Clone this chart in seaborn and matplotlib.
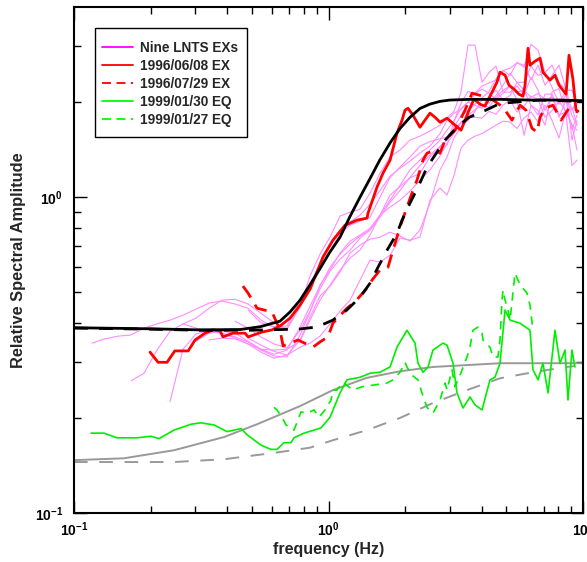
import matplotlib
matplotlib.use('Agg')
import matplotlib.pyplot as plt
from matplotlib.lines import Line2D
from matplotlib.patches import Rectangle
import seaborn as sns
import pandas as pd

# 数据：模型曲线（黑色）
freq_model_1 = [0.10, 0.20, 0.31, 0.45, 0.54, 0.645, 0.706, 0.773, 0.846, 0.926, 1.01, 1.11, 1.215, 1.33,
                1.46, 1.59, 1.75, 1.91, 2.09, 2.29, 2.5, 2.74, 3.0, 3.6, 4.7, 6.2, 8.1, 10.0]
amp_model_1 = [0.386, 0.383, 0.380, 0.381, 0.389, 0.405, 0.433, 0.472, 0.528, 0.594, 0.668, 0.747, 0.869, 1.0,
               1.15, 1.31, 1.49, 1.65, 1.79, 1.91, 1.97, 2.01, 2.03, 2.04, 2.04, 2.03, 2.03, 2.02]

freq_model_2 = [0.10, 0.20, 0.31, 0.49, 0.76, 0.90, 1.04, 1.18, 1.33, 1.456, 1.565, 1.70, 1.86, 1.945, 2.09,
                2.247, 2.44, 2.62, 2.87, 3.2, 3.57, 4.12, 4.72, 6.78, 10.0]
amp_model_2 = [0.385, 0.382, 0.379, 0.379, 0.382, 0.388, 0.408, 0.439, 0.482, 0.534, 0.60, 0.680, 0.769, 0.846,
               0.957, 1.076, 1.244, 1.358, 1.515, 1.665, 1.79, 1.88, 1.98, 2.03, 2.01]

# 灰色模型曲线
freq_gray_1 = [0.1, 0.157, 0.247, 0.389, 0.524, 0.712, 0.773, 1.041, 1.417, 1.91, 2.574, 3.501, 4.72, 6.36, 10.0]
amp_gray_1 = [0.147, 0.149, 0.158, 0.174, 0.191, 0.212, 0.218, 0.245, 0.268, 0.281, 0.290, 0.294, 0.298, 0.298, 0.298]

freq_gray_2 = [0.1, 0.247, 0.389, 0.611, 0.846, 1.041, 1.417, 1.91, 2.574, 3.501, 4.72, 6.36, 8.65, 9.30]
amp_gray_2 = [0.145, 0.145, 0.148, 0.155, 0.161, 0.170, 0.183, 0.200, 0.223, 0.245, 0.267, 0.279, 0.290, 0.292]

# 1996/06/08 EX
freq_ex_0608 = [0.199, 0.214, 0.232, 0.249, 0.281, 0.299, 0.327, 0.352, 0.375, 0.385,
                0.421, 0.470, 0.483, 0.548, 0.600, 0.645, 0.706, 0.773, 0.846, 0.951,
                1.041, 1.161, 1.215, 1.294, 1.417, 1.43, 1.551, 1.637, 1.745, 1.858,
                1.945, 1.998, 2.053, 2.148, 2.288, 2.394, 2.505, 2.621, 2.742, 2.922,
                3.141, 3.316, 3.566, 3.73, 3.94, 4.12, 4.39, 4.59, 4.72, 4.94,
                5.12, 5.36, 5.60, 5.81, 5.92, 6.08, 6.19, 6.48, 6.78, 6.96,
                7.42, 7.76, 8.05, 8.58, 8.81, 9.13, 9.39, 9.56]
amp_ex_0608 = [0.323, 0.300, 0.300, 0.326, 0.326, 0.353, 0.371, 0.380, 0.377, 0.361,
               0.371, 0.371, 0.361, 0.374, 0.380, 0.391, 0.414, 0.455, 0.511, 0.646,
               0.731, 0.815, 0.827, 0.846, 0.858, 0.890, 1.076, 1.191, 1.309, 1.594,
               1.753, 1.885, 1.912, 1.817, 1.665, 1.753, 1.845, 1.791, 1.727, 1.778,
               1.690, 1.629, 1.885, 2.042, 1.969, 1.941, 2.149, 2.311, 2.487, 2.433,
               2.262, 2.197, 2.118, 2.087, 2.262, 2.961, 2.617, 2.694, 2.754, 2.487,
               2.346, 2.433, 2.262, 2.118, 2.814, 2.363, 1.885, 1.872]

# 1996/07/29 EX
freq_ex_0729 = [0.461, 0.483, 0.524, 0.600, 0.645, 0.663, 0.759, 0.869, 0.926, 0.995,
                1.041, 1.181, 1.271, 1.417, 1.482, 1.594, 1.713, 1.792, 1.91, 2.034,
                2.148, 2.227, 2.351, 2.438, 2.621, 2.742, 2.87, 3.141, 3.438, 3.664,
                3.94, 4.43, 4.85, 5.26, 5.66, 5.97, 6.30, 6.60, 6.78, 7.09,
                7.62, 8.20, 8.81, 9.56]
amp_ex_0729 = [0.523, 0.497, 0.445, 0.433, 0.379, 0.338, 0.353, 0.335, 0.348, 0.361,
               0.399, 0.445, 0.466, 0.515, 0.546, 0.588, 0.600, 0.680, 0.804, 0.930,
               1.052, 1.132, 1.309, 1.378, 1.408, 1.378, 1.515, 1.629, 1.885, 2.134,
               2.10, 2.03, 1.927, 1.753, 1.955, 1.885, 1.653, 1.606, 1.791, 1.912,
               1.955, 1.753, 1.912, 1.858]

# 1999/01/30 EQ
freq_eq_0130 = [0.1167, 0.1312, 0.1476, 0.1768, 0.2007, 0.2158, 0.2471, 0.2883, 0.3155, 0.3549,
                0.3993, 0.4531, 0.4784, 0.543, 0.5942, 0.6277, 0.6687, 0.7121, 0.7318, 0.8012,
                0.877, 0.9344, 1.014, 1.11, 1.181, 1.33, 1.456, 1.594, 1.745, 1.858,
                2.034, 2.188, 2.247, 2.351, 2.46, 2.574, 2.818, 2.922, 3.085, 3.198,
                3.377, 3.597, 3.764, 4.01, 4.31, 4.51, 4.72, 4.94, 5.17, 5.66,
                6.19, 6.36, 6.66, 6.96, 7.29, 7.76, 8.12, 8.50, 8.73, 9.05,
                9.30]
amp_eq_0130 = [0.179, 0.179, 0.173, 0.173, 0.175, 0.172, 0.183, 0.191, 0.193, 0.190,
               0.181, 0.185, 0.177, 0.164, 0.159, 0.159, 0.167, 0.167, 0.173, 0.179,
               0.183, 0.186, 0.201, 0.240, 0.264, 0.269, 0.277, 0.279, 0.290, 0.335,
               0.379, 0.345, 0.298, 0.279, 0.290, 0.328, 0.345, 0.340, 0.298, 0.240,
               0.215, 0.233, 0.220, 0.212, 0.264, 0.269, 0.298, 0.439, 0.408, 0.399,
               0.379, 0.284, 0.264, 0.298, 0.240, 0.379, 0.298, 0.328, 0.228, 0.328,
               0.290]

# 1999/01/27 EQ
freq_eq_0127 = [0.6106, 0.6277, 0.6567, 0.6808, 0.7318, 0.7796, 0.8233, 0.877, 0.9177, 0.9688,
                1.023, 1.041, 1.08, 1.14, 1.215, 1.248, 1.354, 1.496, 1.698, 1.792,
                1.91, 1.998, 2.034, 2.129, 2.247, 2.33, 2.438, 2.574, 2.742, 2.87,
                2.922, 3.057, 3.141, 3.287, 3.501, 3.597, 3.697, 3.868, 4.01, 4.047,
                4.31, 4.43, 4.634, 4.72, 4.805, 4.85, 4.94, 5.074, 5.17, 5.405,
                5.66, 6.025, 6.19, 6.36]
amp_eq_0127 = [0.216, 0.212, 0.201, 0.190, 0.183, 0.209, 0.207, 0.212, 0.201, 0.212,
               0.228, 0.245, 0.245, 0.260, 0.249, 0.245, 0.251, 0.254, 0.258, 0.264,
               0.279, 0.300, 0.290, 0.273, 0.264, 0.240, 0.216, 0.207, 0.228, 0.258,
               0.245, 0.284, 0.251, 0.273, 0.312, 0.335, 0.379, 0.388, 0.371, 0.353,
               0.335, 0.312, 0.312, 0.353, 0.472, 0.508, 0.472, 0.439, 0.408, 0.575,
               0.527, 0.497, 0.455, 0.379]

# 九个 LNTS 爆炸（共用频率点）
pink_freq = [0.1177, 0.1323, 0.1489, 0.1675, 0.1884, 0.2119, 0.2383, 0.2681, 0.3016, 0.3392,
             0.3815, 0.4292, 0.4827, 0.543, 0.6106, 0.687, 0.773, 0.846, 0.926, 1.014,
             1.11, 1.215, 1.33, 1.456, 1.594, 1.745, 1.91, 2.09, 2.288, 2.505,
             2.742, 2.922, 3.112, 3.316, 3.532, 3.764, 4.01, 4.273, 4.551, 4.85,
             5.167, 5.505, 5.866, 6.248, 6.657, 7.092, 7.555, 8.05, 8.577, 9.054,
             9.472]
pink_1 = [0.345, 0.356, 0.363, 0.366, 0.385, 0.397, 0.408, 0.423, 0.442, 0.462,
          0.469, 0.459, 0.445, 0.408, 0.388, 0.391, 0.472, 0.535, 0.596, 0.670,
          0.769, 0.815, 0.840, 0.864, 1.0, 1.155, 1.245, 1.34, 1.45, 1.50,
          1.53, 1.55, 1.665, 1.81, 1.88, 1.97, 2.06, 2.16, 2.37, 2.52,
          2.43, 2.67, 2.58, 3.05, 2.92, 2.48, 2.62, 2.31, 2.18, 1.515,
          1.75]
pink_2 = [None, None, None, None, None, None, None, 0.397, 0.414, 0.445,
          0.472, 0.475, 0.459, 0.429, 0.400, 0.382, 0.449, 0.563, 0.660, 0.747,
          0.871, 0.897, 0.916, 1.03, 1.19, 1.34, 1.41, 1.515, 1.56, 1.62,
          1.69, 1.78, 1.87, 2.15, 3.03, 3.03, 2.31, 2.48, 2.60, 2.15,
          2.15, 2.25, 2.10, 2.40, 2.18, 1.88, 2.10, 1.79, 2.03, 1.63,
          1.82]
pink_3 = [None, None, None, 0.262, 0.277, 0.328, 0.376, 0.397, 0.385, 0.376,
          0.371, 0.361, 0.348, 0.328, 0.314, 0.312, 0.366, 0.433, 0.527, 0.588,
          0.665, 0.726, 0.758, 0.798, 0.877, 1.015, 1.08, 1.15, 1.19, 1.34,
          1.44, 1.46, 1.74, 1.985, 2.16, 2.13, 2.25, 2.30, 2.35, 2.52,
          2.56, 2.66, 2.62, 2.35, 2.62, 2.26, 2.43, 2.62, 2.18, 2.18,
          1.955]
pink_4 = [None, None, None, None, None, None, 0.225, 0.330, 0.369, 0.379,
          0.371, 0.358, 0.343, 0.323, 0.309, 0.316, 0.353, 0.417, 0.486, 0.523,
          0.579, 0.665, 0.705, 0.736, 0.747, 0.775, 0.753, 0.726, 0.787, 0.957,
          1.22, 1.34, 1.54, 1.665, 1.75, 1.87, 2.04, 1.985, 2.10, 2.26,
          2.47, 2.31, 2.31, 2.60, 2.43, 2.48, 2.23, 1.985, 2.18, 1.88,
          2.03]
pink_5 = [None, None, None, None, None, None, None, None, 0.350, 0.371,
          0.376, 0.371, 0.350, 0.330, 0.318, 0.328, 0.388, 0.452, 0.523, 0.600,
          0.660, 0.710, 0.753, 0.787, 0.877, 0.930, 0.978, 1.045, 1.13, 1.22,
          1.35, 1.48, 1.59, 1.715, 1.81, 1.895, 1.955, 1.925, 2.07, 2.18,
          2.25, 2.03, 1.57, 1.955, 1.88, 1.69, 2.15, 2.21, 1.82, 1.26,
          1.31]
pink_6 = [None, None, None, None, None, None, None, None, None, None,
          None, None, 0.439, 0.400, 0.388, 0.385, 0.452, 0.531, 0.614, 0.700,
          0.787, 0.834, 0.877, 0.950, 1.05, 1.165, 1.235, 1.30, 1.38, 1.45,
          1.59, 1.75, 1.845, 1.895, 2.0, 2.12, 2.20, 2.13, 2.04, 2.13,
          2.25, 2.15, 2.18, 2.07, 2.13, 2.04, 2.07, 1.97, 2.10, 1.81,
          1.69]
pink_7 = [None, None, None, None, None, None, None, None, None, None,
          None, None, 0.358, 0.340, 0.325, 0.316, 0.335, 0.345, 0.363, 0.397,
          0.436, 0.472, 0.546, 0.632, 0.623, 0.655, 0.742, 0.731, 0.747, 0.978,
          1.07, 1.015, 1.17, 1.43, 1.515, 1.56, 1.59, 1.64, 1.69, 1.74,
          1.73, 1.65, 1.78, 1.86, 1.73, 1.955, 1.75, 1.54, 1.88, 1.69,
          1.41]
pink_8 = [None, None, None, None, None, None, None, None, None, 0.353,
          0.358, 0.356, 0.343, 0.330, 0.328, 0.330, 0.350, 0.408, 0.472, 0.527,
          0.588, 0.641, 0.680, 0.758, 0.877, 0.978, 1.09, 1.22, 1.31, 1.41,
          1.515, 1.63, 1.74, 1.91, 2.0, 1.955, 1.91, 2.09, 2.18, 2.03,
          2.10, 2.31, 2.18, 1.955, 1.82, 2.12, 2.12, 1.82, 1.86, 1.69,
          1.63]
pink_9 = [None, None, None, None, None, None, None, None, None, None,
          None, 0.405, 0.385, 0.361, 0.343, 0.333, 0.379, 0.436, 0.512, 0.583,
          0.636, 0.680, 0.742, 0.787, 0.864, 0.964, 1.05, 1.155, 1.26, 1.36,
          1.45, 1.515, 1.63, 1.73, 1.79, 1.79, 1.78, 1.87, 1.83, 1.955,
          2.03, 1.86, 1.94, 2.09, 2.04, 1.79, 1.88, 2.01, 1.87, 1.925,
          1.69]
pink_lines = [pink_1, pink_2, pink_3, pink_4, pink_5, pink_6, pink_7, pink_8, pink_9]

legend_labels = ['Nine LNTS EXs', '1996/06/08 EX', '1996/07/29 EX', '1999/01/30 EQ', '1999/01/27 EQ']

# 样式
sns.set_style('ticks')
plt.rcParams['font.family'] = ['Liberation Sans', 'DejaVu Sans']
plt.rcParams['font.weight'] = 'bold'
plt.rcParams['mathtext.fontset'] = 'custom'
plt.rcParams['mathtext.rm'] = 'Liberation Sans:bold'
plt.rcParams['mathtext.bf'] = 'Liberation Sans:bold'
plt.rcParams['mathtext.it'] = 'Liberation Sans:bold'

fig = plt.figure(figsize=(5.87, 5.62), dpi=100)
ax = fig.add_axes([74 / 587, 49 / 562, 509 / 587, 506 / 562])
ax.set_xscale('log')
ax.set_yscale('log')


def draw(f, a, color, lw, ls='-', z=2):
    df = pd.DataFrame({'f': f, 'a': a}).dropna()
    sns.lineplot(data=df, x='f', y='a', ax=ax, color=color, linewidth=lw,
                 linestyle=ls, estimator=None, sort=False, zorder=z)


# 绘制曲线
draw(freq_gray_1, amp_gray_1, '#999999', 1.4, '-', 1)
draw(freq_gray_2, amp_gray_2, '#999999', 1.4, (0, (7, 6)), 1)
for p in pink_lines:
    draw(pink_freq, p, '#ff8cff', 0.8, '-', 2)
draw(freq_eq_0130, amp_eq_0130, '#00ee00', 1.2, '-', 3)
draw(freq_eq_0127, amp_eq_0127, '#00ee00', 1.2, (0, (5, 4)), 3)
draw(freq_ex_0608, amp_ex_0608, '#ff0000', 2.0, '-', 4)
draw(freq_ex_0729, amp_ex_0729, '#ff0000', 2.0, (0, (5, 3)), 4)
draw(freq_model_2, amp_model_2, 'black', 2.0, (0, (5, 4)), 5)
draw(freq_model_1, amp_model_1, 'black', 2.0, '-', 6)

# 坐标轴
ax.set_xlim(0.1, 10)
ax.set_ylim(0.1, 4.0)
ax.set_xticks([0.1, 1, 10])
ax.set_xticklabels([r'$\mathbf{10^{-1}}$', r'$\mathbf{10^{0}}$', r'$\mathbf{10^{1}}$'])
ax.set_xticks([0.2, 0.3, 0.4, 0.5, 0.6, 0.7, 0.8, 0.9, 2, 3, 4, 5, 6, 7, 8, 9], minor=True)
ax.set_yticks([0.1, 1])
ax.set_yticklabels([r'$\mathbf{10^{-1}}$', r'$\mathbf{10^{0}}$'])
ax.set_yticks([0.2, 0.3, 0.4, 0.5, 0.6, 0.7, 0.8, 0.9, 2, 3], minor=True)
ax.xaxis.set_minor_formatter(plt.NullFormatter())
ax.yaxis.set_minor_formatter(plt.NullFormatter())
ax.tick_params(which='both', direction='in', top=True, right=True, width=1, colors='black', labelsize=10)
ax.tick_params(which='major', length=9)
ax.tick_params(which='minor', length=5)
ax.tick_params(axis='x', which='major', pad=5)
ax.tick_params(axis='y', which='major', pad=8)
for s in ax.spines.values():
    s.set_linewidth(1.5)
    s.set_color('black')

ax.set_xlabel('frequency (Hz)', fontsize=11.5, fontweight='bold')
ax.set_ylabel('Relative Spectral Amplitude', fontsize=11.8, fontweight='bold')
ax.xaxis.set_label_coords(0.5, -0.057)
ax.yaxis.set_label_coords(-0.094, 0.5)

# 图例（边框单独画）
handles = [Line2D([], [], color='#ff00ff', lw=1.3),
           Line2D([], [], color='#ff0000', lw=1.3),
           Line2D([], [], color='#ff0000', lw=1.3, ls=(0, (5, 3))),
           Line2D([], [], color='#00ff00', lw=1.3),
           Line2D([], [], color='#00ff00', lw=1.3, ls=(0, (5, 3)))]
leg = ax.legend(handles, legend_labels, loc='upper left', bbox_to_anchor=(0.055, 0.933),
                frameon=False, prop={'weight': 'bold', 'size': 9.8}, handlelength=2.3,
                borderpad=0, labelspacing=0.29, handletextpad=0.5, borderaxespad=0)
leg.set_zorder(10)
ax.add_patch(Rectangle((0.0413, 0.743), 0.2987, 0.2155, transform=ax.transAxes,
                       facecolor='white', edgecolor='black', linewidth=1.0, zorder=9))

fig.savefig('out.png', dpi=100)
